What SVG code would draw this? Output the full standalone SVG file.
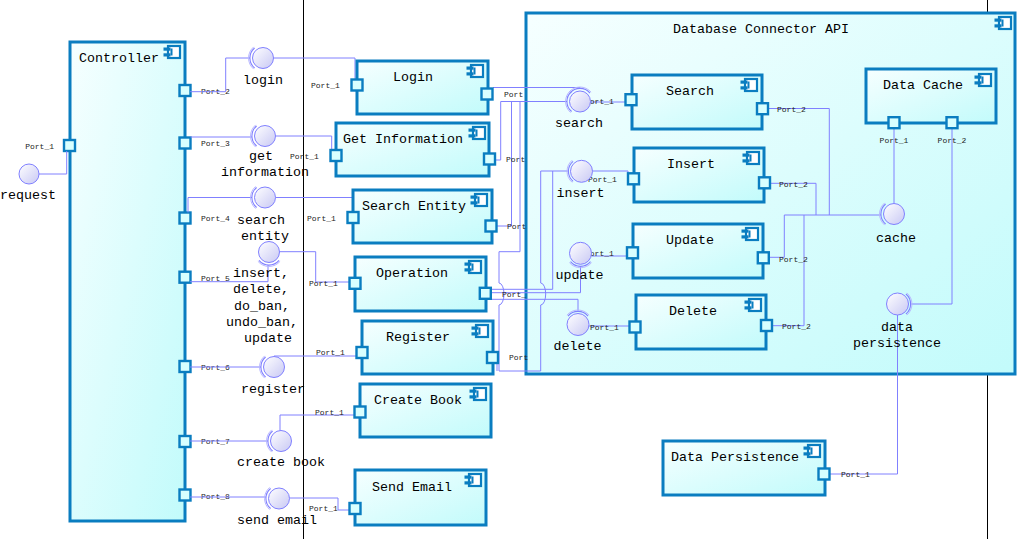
<svg xmlns="http://www.w3.org/2000/svg" xmlns:xlink="http://www.w3.org/1999/xlink" width="1025" height="539" viewBox="0 0 1025 539">
<defs>
<linearGradient id="bg" x1="0" y1="0" x2="1" y2="1">
<stop offset="0" stop-color="#f6ffff"/>
<stop offset="1" stop-color="#c2fbfb"/>
</linearGradient>
<linearGradient id="ballg" x1="0" y1="0" x2="1" y2="1">
<stop offset="0" stop-color="#ffffff"/>
<stop offset="1" stop-color="#c8c8f4"/>
</linearGradient>
<g id="ic">
<rect x="5" y="1" width="12" height="12" fill="#fff" stroke="#0a7dc0" stroke-width="2.2"/>
<rect x="7.5" y="3.5" width="2" height="7" fill="#0a7dc0"/>
<rect x="0.5" y="2.5" width="7" height="3.2" fill="#0a7dc0"/>
<rect x="0.5" y="8.3" width="7" height="3.2" fill="#0a7dc0"/>
</g>
<g id="sock">
<path d="M-8.4,-10 A13,13 0 0 0 -8.4,10" fill="none" stroke="#8080ff" stroke-width="1.1"/>
<path d="M-9.3,-11.1 A14.5,14.5 0 0 0 -9.3,11.1" fill="none" stroke="#b8b8ff" stroke-width="1"/>
</g>
</defs>
<style>
.box{fill:url(#bg);stroke:#0a7dc0;stroke-width:3}
.port{fill:#d8ffff;stroke:#0a7dc0;stroke-width:2.4}
.ball{fill:url(#ballg);stroke:#8080ff;stroke-width:1}
.wire{fill:none;stroke:#8080ff;stroke-width:1}
.t{font-family:"Liberation Mono",monospace;font-size:13.33px;fill:#000}
.c{text-anchor:middle}
.p{font-family:"Liberation Mono",monospace;font-size:8px;fill:#222}
.e{text-anchor:end}
.bl{stroke:#000;stroke-width:1}
</style>

<line class="bl" x1="303.5" y1="0" x2="303.5" y2="539"/>
<line class="bl" x1="987.5" y1="0" x2="987.5" y2="539"/>

<g id="controller">
<rect class="box" x="70" y="42" width="115" height="479"/>
<use xlink:href="#ic" href="#ic" x="163" y="45"/>
<text class="t" x="79" y="62">Controller</text>
<rect class="port" x="64" y="140" width="11" height="11"/>
<rect class="port" x="179.5" y="85" width="11" height="11"/>
<rect class="port" x="179.5" y="137.5" width="11" height="11"/>
<rect class="port" x="179.5" y="212.5" width="11" height="11"/>
<rect class="port" x="179.5" y="271.7" width="11" height="11"/>
<rect class="port" x="179.5" y="361" width="11" height="11"/>
<rect class="port" x="179.5" y="436" width="11" height="11"/>
<rect class="port" x="179.5" y="489.5" width="11" height="11"/>
<text class="p e" x="54" y="149">Port_1</text>
<text class="p" x="201" y="93.5">Port_2</text>
<text class="p" x="201" y="146">Port_3</text>
<text class="p" x="201" y="221">Port_4</text>
<text class="p" x="201" y="280.5">Port_5</text>
<text class="p" x="201" y="369.5">Port_6</text>
<text class="p" x="201" y="444">Port_7</text>
<text class="p" x="201" y="498.5">Port_8</text>
</g>

<g id="database-connector-api">
<rect class="box" x="526" y="13" width="489" height="361"/>
<use xlink:href="#ic" href="#ic" x="994" y="16"/>
<text class="t" x="673" y="33">Database Connector API</text>
</g>

<g id="connectors">
<path class="wire" d="M39,174 H66.7 V151"/>
<path class="wire" d="M190,91.7 H225.7 V58 H250"/>
<path class="wire" d="M273.5,58 H355 V79.5"/>
<path class="wire" d="M190.5,137 H252"/>
<path class="wire" d="M275.5,136 H331.7 V150"/>
<path class="wire" d="M188,212.5 V197.5 H252"/>
<path class="wire" d="M275.5,197.5 H355 V212"/>
<path class="wire" d="M190,281.7 H268 V265"/>
<path class="wire" d="M279.5,251.7 H315.7 V282 H349.5"/>
<path class="wire" d="M190,367 H261"/>
<path class="wire" d="M274,356 H356"/>
<path class="wire" d="M190,441 H268"/>
<path class="wire" d="M280,430.5 V415 H354.5"/>
<path class="wire" d="M190,497 H266"/>
<path class="wire" d="M289.5,498 H338 V510 H349.5"/>
<path class="wire" d="M493,87.5 H580 V88.5"/>
<path class="wire" d="M495,160 H500.7 V101.5 H567"/>
<path class="wire" d="M496.5,226 H511.5 V101.5"/>
<path class="wire" d="M520,101.5 V251.7 H499 V283 A5,11 0 0 1 499,305 V371 H540.7 V305 A5,11 0 0 0 540.7,283 V171 H568"/>
<path class="wire" d="M497,363 V371"/>
<path class="wire" d="M491,289.3 H552.7 V171"/>
<path class="wire" d="M491,292.7 H580.5 V266.5"/>
<path class="wire" d="M491,299.3 H578 V311.5"/>
<path class="wire" d="M591,102 H626"/>
<path class="wire" d="M592.5,171 H628 V173.5"/>
<path class="wire" d="M591.5,256 H627"/>
<path class="wire" d="M589,326 H629.5"/>
<path class="wire" d="M768,108.5 H829.3 V215"/>
<path class="wire" d="M770,183.3 H816 V215"/>
<path class="wire" d="M769,257.3 H784.3 V215"/>
<path class="wire" d="M772,325.7 H804 V215"/>
<path class="wire" d="M784.3,215 H881"/>
<path class="wire" d="M894,128.2 V203.5"/>
<path class="wire" d="M911,304 H952 V128.2"/>
<path class="wire" d="M897.5,315 V474 H829.5"/>
</g>

<g id="login">
<rect class="box" x="357" y="61" width="131" height="53"/>
<use xlink:href="#ic" href="#ic" x="466" y="64"/>
<text class="t" x="393" y="81">Login</text>
<rect class="port" x="351.5" y="79.5" width="11" height="11"/>
<rect class="port" x="481.5" y="88.5" width="11" height="11"/>
<text class="p" x="311" y="87.5">Port_1</text>
<text class="p" x="504" y="97">Port</text>
</g>

<g id="get-information">
<rect class="box" x="336" y="123" width="153" height="53"/>
<use xlink:href="#ic" href="#ic" x="468" y="126"/>
<text class="t" x="343" y="143">Get Information</text>
<rect class="port" x="330.5" y="150" width="11" height="11"/>
<rect class="port" x="484" y="153.5" width="11" height="11"/>
<text class="p" x="290" y="158.5">Port_1</text>
<text class="p" x="506" y="162">Port</text>
</g>

<g id="search-entity">
<rect class="box" x="353" y="190" width="139" height="53"/>
<use xlink:href="#ic" href="#ic" x="470" y="193"/>
<text class="t" x="362" y="210">Search Entity</text>
<rect class="port" x="347.5" y="212" width="11" height="11"/>
<rect class="port" x="485.5" y="220.5" width="11" height="11"/>
<text class="p" x="307" y="220.5">Port_1</text>
<text class="p" x="507" y="228.7">Port</text>
</g>

<g id="operation">
<rect class="box" x="355" y="257" width="131" height="54"/>
<use xlink:href="#ic" href="#ic" x="464" y="260"/>
<text class="t" x="376" y="277">Operation</text>
<rect class="port" x="349.5" y="277.8" width="11" height="11"/>
<rect class="port" x="479.8" y="287.8" width="11" height="11"/>
<text class="p" x="309" y="286.3">Port_1</text>
<text class="p" x="502" y="296.5">Port_</text>
</g>

<g id="register">
<rect class="box" x="362" y="321" width="131" height="53"/>
<use xlink:href="#ic" href="#ic" x="471" y="324"/>
<text class="t" x="386" y="341">Register</text>
<rect class="port" x="356.5" y="347" width="11" height="11"/>
<rect class="port" x="487" y="352" width="11" height="11"/>
<text class="p" x="316" y="355.3">Port_1</text>
<text class="p" x="509" y="360">Port</text>
</g>

<g id="create-book">
<rect class="box" x="360" y="384" width="131" height="53"/>
<use xlink:href="#ic" href="#ic" x="469" y="387"/>
<text class="t" x="374" y="404">Create Book</text>
<rect class="port" x="354.5" y="406.5" width="11" height="11"/>
<text class="p" x="315" y="415">Port_1</text>
</g>

<g id="send-email">
<rect class="box" x="355" y="470" width="131" height="55"/>
<use xlink:href="#ic" href="#ic" x="464" y="473"/>
<text class="t" x="372" y="491">Send Email</text>
<rect class="port" x="349.5" y="503" width="11" height="11"/>
<text class="p" x="309" y="511">Port_1</text>
</g>

<g id="search">
<rect class="box" x="632" y="75" width="130" height="54"/>
<use xlink:href="#ic" href="#ic" x="740" y="78"/>
<text class="t" x="666" y="95">Search</text>
<text class="p" x="585" y="104">Port_1</text>
<text class="p" x="777" y="112">Port_2</text>
<rect class="port" x="625.5" y="94.2" width="11" height="11"/>
<rect class="port" x="757" y="103.2" width="11" height="11"/>
</g>

<g id="insert">
<rect class="box" x="634" y="148" width="130" height="54"/>
<use xlink:href="#ic" href="#ic" x="742" y="151"/>
<text class="t" x="667" y="168">Insert</text>
<text class="p" x="588" y="182">Port_1</text>
<text class="p" x="779" y="186.5">Port_2</text>
<rect class="port" x="628" y="173.3" width="11" height="11"/>
<rect class="port" x="759" y="177.3" width="11" height="11"/>
</g>

<g id="update">
<rect class="box" x="633" y="224" width="130" height="54"/>
<use xlink:href="#ic" href="#ic" x="741" y="227"/>
<text class="t" x="666" y="244">Update</text>
<text class="p" x="585" y="256.3">Port_1</text>
<text class="p" x="779" y="261.5">Port_2</text>
<rect class="port" x="627" y="247.3" width="11" height="11"/>
<rect class="port" x="757.8" y="252.3" width="11" height="11"/>
</g>

<g id="delete">
<rect class="box" x="636" y="295" width="130" height="54"/>
<use xlink:href="#ic" href="#ic" x="744" y="298"/>
<text class="t" x="669" y="315">Delete</text>
<text class="p" x="590" y="330">Port_1</text>
<text class="p" x="782" y="328.7">Port_2</text>
<rect class="port" x="629.5" y="321.5" width="11" height="11"/>
<rect class="port" x="761" y="320" width="11" height="11"/>
</g>

<g id="data-cache">
<rect class="box" x="866" y="69" width="130" height="54"/>
<use xlink:href="#ic" href="#ic" x="974" y="73"/>
<text class="t" x="883" y="89">Data Cache</text>
<rect class="port" x="888.5" y="117.2" width="11" height="11"/>
<rect class="port" x="946.5" y="117.2" width="11" height="11"/>
<text class="p c" x="894" y="143">Port_1</text>
<text class="p c" x="952" y="143">Port_2</text>
</g>

<g id="data-persistence">
<rect class="box" x="663" y="441" width="162" height="54"/>
<use xlink:href="#ic" href="#ic" x="803" y="444"/>
<text class="t" x="671" y="461">Data Persistence</text>
<rect class="port" x="818.5" y="468.5" width="11" height="11"/>
<text class="p" x="841" y="477.3">Port_1</text>
</g>

<g id="if-request">
<circle class="ball" cx="29" cy="174" r="10"/>
<text class="t c" x="28" y="199">request</text>
</g>
<g id="if-login">
<circle class="ball" cx="263" cy="58" r="10.5"/>
<use xlink:href="#sock" href="#sock" transform="translate(263,58)"/>
<text class="t c" x="263" y="84">login</text>
</g>
<g id="if-get-information">
<circle class="ball" cx="265" cy="136" r="10.5"/>
<use xlink:href="#sock" href="#sock" transform="translate(265,136)"/>
<text class="t c" x="261" y="160">get</text>
<text class="t c" x="265" y="176">information</text>
</g>
<g id="if-search-entity">
<circle class="ball" cx="265" cy="197.5" r="10.5"/>
<use xlink:href="#sock" href="#sock" transform="translate(265,197.5)"/>
<text class="t c" x="261" y="224">search</text>
<text class="t c" x="265" y="240">entity</text>
</g>
<g id="if-operation">
<circle class="ball" cx="269" cy="252" r="10.5"/>
<use xlink:href="#sock" href="#sock" transform="translate(269,252) rotate(-90)"/>
<text class="t c" x="261" y="277">insert,</text>
<text class="t c" x="261" y="293">delete,</text>
<text class="t c" x="262" y="309.5">do_ban,</text>
<text class="t c" x="262" y="325.5">undo_ban,</text>
<text class="t c" x="268" y="341.5">update</text>
</g>
<g id="if-register">
<circle class="ball" cx="274" cy="367" r="10.5"/>
<use xlink:href="#sock" href="#sock" transform="translate(274,367)"/>
<text class="t c" x="273" y="393">register</text>
</g>
<g id="if-create-book">
<circle class="ball" cx="281" cy="441" r="10.5"/>
<use xlink:href="#sock" href="#sock" transform="translate(281,441)"/>
<text class="t c" x="281" y="466">create book</text>
</g>
<g id="if-send-email">
<circle class="ball" cx="279" cy="498.5" r="10.5"/>
<use xlink:href="#sock" href="#sock" transform="translate(279,498.5)"/>
<text class="t c" x="277" y="524">send email</text>
</g>
<g id="if-search">
<circle class="ball" cx="580" cy="101.5" r="10.5"/>
<use xlink:href="#sock" href="#sock" transform="translate(580,101.5)"/>
<use xlink:href="#sock" href="#sock" transform="translate(580,101.5) rotate(90)"/>
<text class="t c" x="579" y="127">search</text>
</g>
<g id="if-insert">
<circle class="ball" cx="581.5" cy="171.3" r="11"/>
<use xlink:href="#sock" href="#sock" transform="translate(581.5,171.3)"/>
<text class="t c" x="580.5" y="197">insert</text>
</g>
<g id="if-update">
<circle class="ball" cx="580.5" cy="253.3" r="11"/>
<use xlink:href="#sock" href="#sock" transform="translate(580.5,253.3) rotate(-90)"/>
<text class="t c" x="579.5" y="279">update</text>
</g>
<g id="if-delete">
<circle class="ball" cx="578" cy="324.5" r="11"/>
<use xlink:href="#sock" href="#sock" transform="translate(578,324.5) rotate(90)"/>
<text class="t c" x="577.5" y="350">delete</text>
</g>
<g id="if-cache">
<circle class="ball" cx="894" cy="214" r="10.5"/>
<use xlink:href="#sock" href="#sock" transform="translate(894,214)"/>
<text class="t c" x="896" y="242">cache</text>
</g>
<g id="if-data-persistence">
<circle class="ball" cx="897.5" cy="304" r="11"/>
<use xlink:href="#sock" href="#sock" transform="translate(897.5,304) rotate(180)"/>
<text class="t c" x="897" y="331">data</text>
<text class="t c" x="897" y="347">persistence</text>
</g>
</svg>
